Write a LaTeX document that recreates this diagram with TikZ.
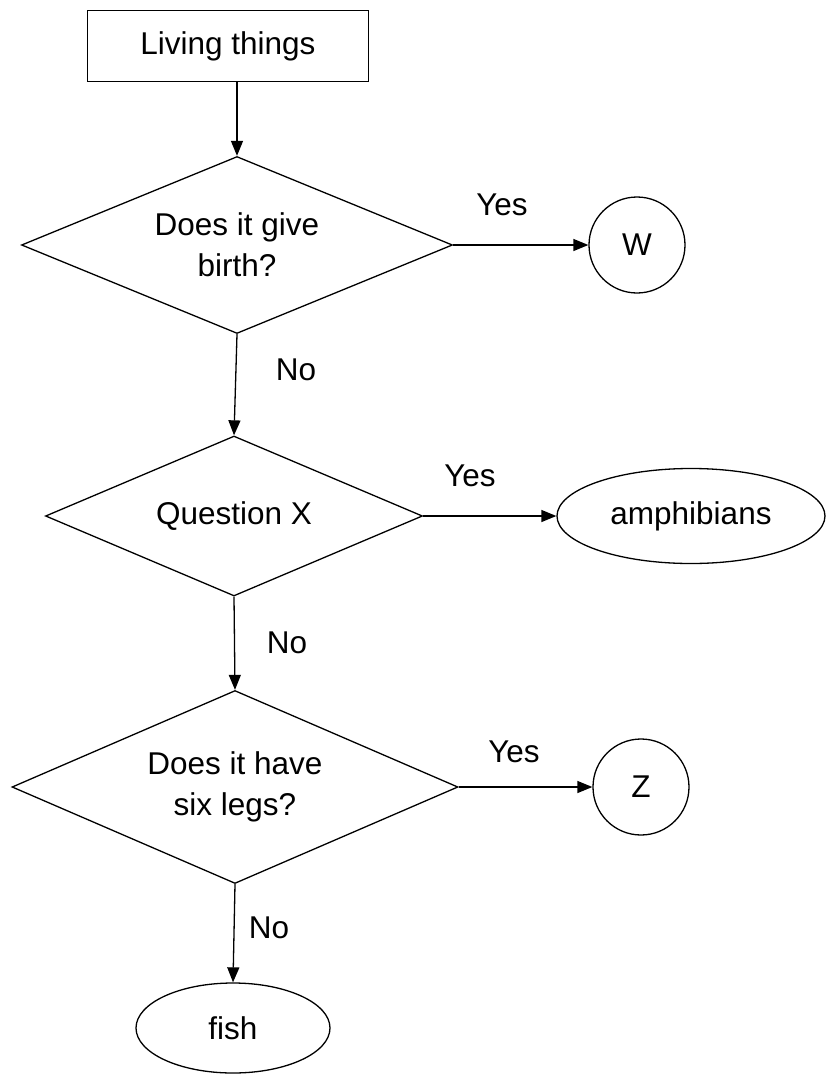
\documentclass[tikz,border=0pt]{standalone}
\usepackage{fontspec}
\setmainfont{Liberation Sans}
\usetikzlibrary{shapes.geometric,arrows.meta}
\begin{document}
\begin{tikzpicture}[x=1pt,y=-1pt,
  lbl/.style={font=\fontsize{31.5}{41}\selectfont, inner sep=0pt},
  shp/.style={draw, line width=1.3pt, inner sep=0pt, font=\fontsize{31.5}{41}\selectfont, align=center},
  rectbox/.style={shp, rectangle, minimum width=281pt, minimum height=71pt},
  dia/.style={shp, diamond, aspect=2.4},
  circ/.style={shp, circle, minimum size=96pt},
  ell/.style={shp, ellipse},
  conn/.style={line width=1.3pt, -{Triangle[length=15pt,width=12pt]}}
]
\useasboundingbox (0,0) rectangle (827,1076);
\fill[white] (0,0) rectangle (827,1076);

\node[rectbox] (box) at (228,46) {Living things};
\node[dia, minimum width=431pt, minimum height=177pt] (d1) at (237,245) {Does it give\\birth?};
\node[circ] (W) at (637,245) {W};
\node[dia, minimum width=377pt, minimum height=160pt] (d2) at (234,516) {Question X};
\node[ell, minimum width=268pt, minimum height=95pt] (amph) at (691,516) {amphibians};
\node[dia, minimum width=446pt, minimum height=193pt] (d3) at (235,787) {Does it have\\six legs?};
\node[circ] (Z) at (641,787) {Z};
\node[ell, minimum width=194pt, minimum height=90pt] (fish) at (233,1028) {fish};

\draw[conn] (d1.north |- box.south) -- (d1.north);
\draw[conn] (d1.east) -- (W.west);
\draw[conn] (d1.south) -- (d2.north);
\draw[conn] (d2.east) -- (amph.west);
\draw[conn] (d2.south) -- (d3.north);
\draw[conn] (d3.east) -- (Z.west);
\draw[conn] (d3.south) -- (fish.north);

\node[lbl] (y1) at (502,205) {Yes};
\node[lbl] (n1) at (296,370) {No};
\node[lbl] (y2) at (470,476) {Yes};
\node[lbl] (n2) at (287,643) {No};
\node[lbl] (y3) at (514,752) {Yes};
\node[lbl] (n3) at (269,928) {No};
\end{tikzpicture}
\end{document}
